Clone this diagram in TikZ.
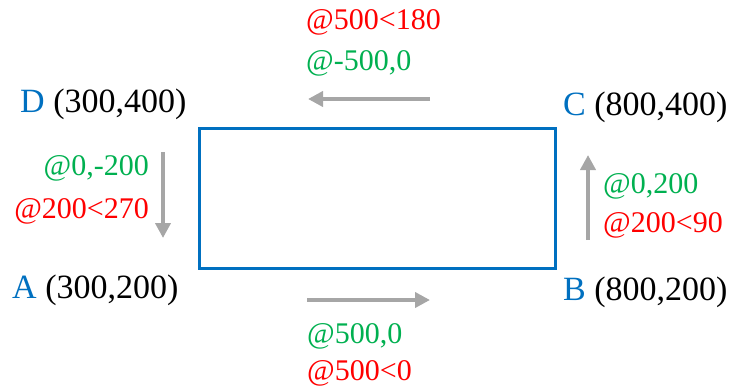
\documentclass[tikz,border=0pt]{standalone}
\usepackage{fontspec}
\setmainfont{Liberation Serif}
\usetikzlibrary{arrows.meta}
\definecolor{ptblue}{RGB}{0,112,192}
\definecolor{relgreen}{RGB}{0,176,80}
\definecolor{polred}{RGB}{255,0,0}
\definecolor{movegray}{RGB}{166,166,166}
\tikzstyle{pt} = [inner sep=0pt, font={\fontsize{34}{40}\selectfont}]
\tikzstyle{rel} = [inner sep=0pt, text=relgreen, font={\fontsize{30}{36}\selectfont}]
\tikzstyle{pol} = [inner sep=0pt, text=polred, font={\fontsize{30}{36}\selectfont}]
\tikzstyle{move} = [draw=movegray, line width=4pt, -{Triangle[length=15pt,width=15pt]}]
\tikzstyle{box} = [draw=ptblue, line width=3pt]

\begin{document}
\begin{tikzpicture}[x=1pt,y=-1pt]
        \useasboundingbox (0,0) rectangle (735,389);
        \draw[box] (199,128) rectangle (555,268);
        \node[pt,anchor=base west](D) at (20,112){\textcolor{ptblue}{D} (300,400)};
        \node[pt,anchor=base west](A) at (12,298){\textcolor{ptblue}{A} (300,200)};
        \node[pt,anchor=base west](C) at (563,115){\textcolor{ptblue}{C} (800,400)};
        \node[pt,anchor=base west](B) at (563,300){\textcolor{ptblue}{B} (800,200)};
        \node[pol,anchor=base west](topP) at (306,29){@500<180};
        \node[rel,anchor=base west](topR) at (306,70){@-500,0};
        \node[rel,anchor=base east](leftR) at (149,175){@0,-200};
        \node[pol,anchor=base east](leftP) at (149,218){@200<270};
        \node[rel,anchor=base west](rightR) at (603,193){@0,200};
        \node[pol,anchor=base west](rightP) at (603,232){@200<90};
        \node[rel,anchor=base west](botR) at (307,343){@500,0};
        \node[pol,anchor=base west](botP) at (307,380){@500<0};
        \coordinate (t0) at (430,99);
        \coordinate (t1) at (308,99);
        \coordinate (l0) at (163,152);
        \coordinate (l1) at (163,238);
        \coordinate (r0) at (588,240);
        \coordinate (r1) at (588,155);
        \coordinate (b0) at (307,300);
        \coordinate (b1) at (430,300);
        \draw[move](t0)--(t1);
        \draw[move](l0)--(l1);
        \draw[move](r0)--(r1);
        \draw[move](b0)--(b1);
      \end{tikzpicture}
\end{document}
